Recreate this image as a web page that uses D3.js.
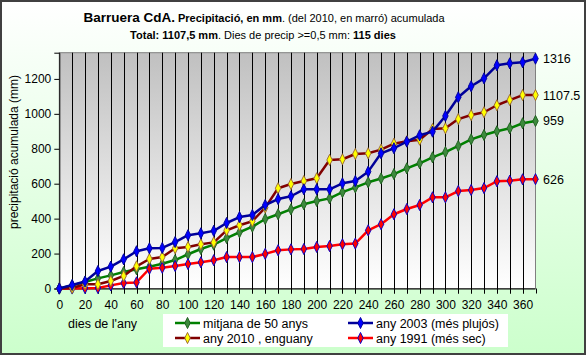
<!DOCTYPE html>
<html><head><meta charset="utf-8">
<script src="https://cdn.jsdelivr.net/npm/d3@7"></script>
<style>body{margin:0;padding:0;overflow:hidden;background:#fff}svg{display:block;font-family:"Liberation Sans",Arial,sans-serif}</style>
</head><body>
<script>
const days = [0,10,20,30,40,50,60,70,80,90,100,110,120,130,140,150,160,170,180,190,200,210,220,230,240,250,260,270,280,290,300,310,320,330,340,350,360,370];
const mitjana = [0,18,37,58,75,94,110,125,142,163,196,226,251,289,322,354,398,425,453,482,501,516,552,579,608,630,655,688,717,751,781,816,854,879,900,917,946,959];
const any2003 = [0,20,40,100,125,167,213,230,232,266,305,316,330,375,409,421,478,512,528,568,568,568,602,615,669,774,803,841,877,898,988,1095,1158,1203,1278,1289,1295,1316];
const any2010 = [0,3,24,24,43,72,127,169,180,230,238,253,264,333,362,385,463,574,598,615,631,736,740,770,774,795,829,843,852,913,917,970,993,1009,1049,1079,1107.5,1107.5];
const any1991 = [0,0,2,3,18,31,35,113,119,129,140,150,162,180,180,180,198,219,224,226,238,243,253,257,333,368,425,455,478,522,522,558,564,575,614,617,625,626];
const yTicks = [0,200,400,600,800,1000,1200];
const xTicks = [0,20,40,60,80,100,120,140,160,180,200,220,240,260,280,300,320,340,360];
const seriesNames = ["mitjana de 50 anys","any 2003 (més plujós)","any 2010 , enguany","any 1991 (més sec)"];
const endLabels = ["959","1316","1107.5","626"];

const W=586,H=355;
const svg=d3.select("body").append("svg").attr("width",W).attr("height",H);
const defs=svg.append("defs");
const bg=defs.append("linearGradient").attr("id","bg").attr("x1",0).attr("y1",0).attr("x2",0).attr("y2",1);
bg.append("stop").attr("offset","0%").attr("stop-color","#ffffff");
bg.append("stop").attr("offset","100%").attr("stop-color","#ccffcc");
const pg=defs.append("linearGradient").attr("id","pg").attr("x1",0).attr("y1",0).attr("x2",0).attr("y2",1);
pg.append("stop").attr("offset","0%").attr("stop-color","#c0c0c0");
pg.append("stop").attr("offset","100%").attr("stop-color","#ffffff");

svg.append("rect").attr("x",1).attr("y",1).attr("width",W-2).attr("height",H-2).attr("fill","url(#bg)").attr("stroke","#404040").attr("stroke-width",2);

const L=59.3,R=535.5,T=52.7,B=288.5;
const x=d3.scaleLinear().domain([0,370]).range([L,R]);
const y=d3.scaleLinear().domain([0,1350]).range([B,T]);

svg.append("rect").attr("x",L).attr("y",T).attr("width",R-L).attr("height",B-T).attr("fill","url(#pg)").attr("stroke","#808080").attr("stroke-width",1);

// vertical gridlines
svg.append("g").selectAll("line").data(days.filter(d=>d>0&&d<370)).join("line")
 .attr("x1",d=>Math.round(x(d))+0.5).attr("x2",d=>Math.round(x(d))+0.5).attr("y1",T).attr("y2",B+5)
 .attr("stroke","#000").attr("stroke-width",1);

// axes
const xAxis=svg.append("g").attr("transform",`translate(0,${B})`)
 .call(d3.axisBottom(x).tickValues(xTicks).tickSize(0).tickPadding(12).tickFormat(d3.format("d")));
xAxis.select(".domain").remove();
xAxis.selectAll("text").attr("font-size",12).attr("fill","#000").attr("font-family","Liberation Sans, Arial");
svg.append("line").attr("x1",L).attr("x2",R).attr("y1",B+0.5).attr("y2",B+0.5).attr("stroke","#000");
svg.append("g").selectAll("line").data(days.filter(d=>d>0)).join("line")
 .attr("x1",d=>Math.round(x(d))+0.5).attr("x2",d=>Math.round(x(d))+0.5).attr("y1",B).attr("y2",B+5).attr("stroke","#000");

const yAxis=svg.append("g").attr("transform",`translate(${L},0)`)
 .call(d3.axisLeft(y).tickValues(yTicks).tickSize(5).tickPadding(3).tickFormat(d3.format("d")));
yAxis.select(".domain").attr("stroke","#000");
yAxis.selectAll("line").attr("stroke","#000");
yAxis.selectAll("text").attr("font-size",12).attr("fill","#000").attr("font-family","Liberation Sans, Arial");

// series
const data=[mitjana,any2003,any2010,any1991];
const lineCol=["#008000","#000099","#800000","#ff0000"];
const mFill=["#3c8a3c","#0000ff","#ffff00","#ff0000"];
const mStroke=["#1f5f1f","#000099","#996633","#0000cc"];
const line=d3.line().x((d,i)=>x(days[i])).y(d=>y(d));
const sym=d3.symbol().type(d3.symbolDiamond).size(36);
const order=[0,3,2,1];
order.forEach(k=>{
 const g=svg.append("g");
 g.append("path").datum(data[k]).attr("d",line).attr("fill","none").attr("stroke",lineCol[k]).attr("stroke-width",2.5).attr("stroke-linejoin","round");
 g.selectAll("path.m").data(data[k]).join("path").attr("class","m").attr("d",sym)
  .attr("transform",(d,i)=>`translate(${x(days[i])},${y(d)}) scale(0.85,1)`)
  .attr("fill",mFill[k]).attr("stroke",mStroke[k]).attr("stroke-width",1);
});

// end labels
data.forEach((s,k)=>{
 svg.append("text").attr("x",543).attr("y",y(s[s.length-1])+4.5).attr("font-size",12.5).attr("fill","#000").text(endLabels[k]);
});

// y title
svg.append("text").attr("transform","translate(18,152) rotate(-90)").attr("text-anchor","middle").attr("font-size",12).attr("fill","#000").text("precipitació acumulada (mm)");
svg.append("text").attr("x",68).attr("y",328).attr("font-size",12.5).attr("fill","#000").text("dies de l'any");

// title
const t1=svg.append("text").attr("x",264).attr("y",22).attr("text-anchor","middle").attr("fill","#000");
t1.append("tspan").attr("font-size",13.5).attr("font-weight","bold").text("Barruera CdA.");
t1.append("tspan").attr("font-size",11).attr("font-weight","bold").text("  Precipitació, en mm");
t1.append("tspan").attr("font-size",11).text(". (del 2010, en marró) acumulada");
const t2=svg.append("text").attr("x",263).attr("y",39).attr("text-anchor","middle").attr("font-size",11).attr("fill","#000");
t2.append("tspan").attr("font-weight","bold").text("Total: 1107,5 mm");
t2.append("tspan").text(". Dies de precip >=0,5 mm: ");
t2.append("tspan").attr("font-weight","bold").text("115 dies");

// legend
svg.append("rect").attr("x",163).attr("y",314).attr("width",345).attr("height",33).attr("fill","#fff");
const lpos=[[175,323],[348,323],[175,338],[348,338]];
lpos.forEach((p,k)=>{
 svg.append("line").attr("x1",p[0]).attr("x2",p[0]+25).attr("y1",p[1]).attr("y2",p[1]).attr("stroke",lineCol[k]).attr("stroke-width",2.5);
 svg.append("path").attr("d",sym).attr("transform",`translate(${p[0]+12.5},${p[1]}) scale(0.85,1)`).attr("fill",mFill[k]).attr("stroke",mStroke[k]);
 svg.append("text").attr("x",p[0]+28).attr("y",p[1]+4.5).attr("font-size",12.5).attr("fill","#000").text(seriesNames[k]);
});
</script>
</body></html>
